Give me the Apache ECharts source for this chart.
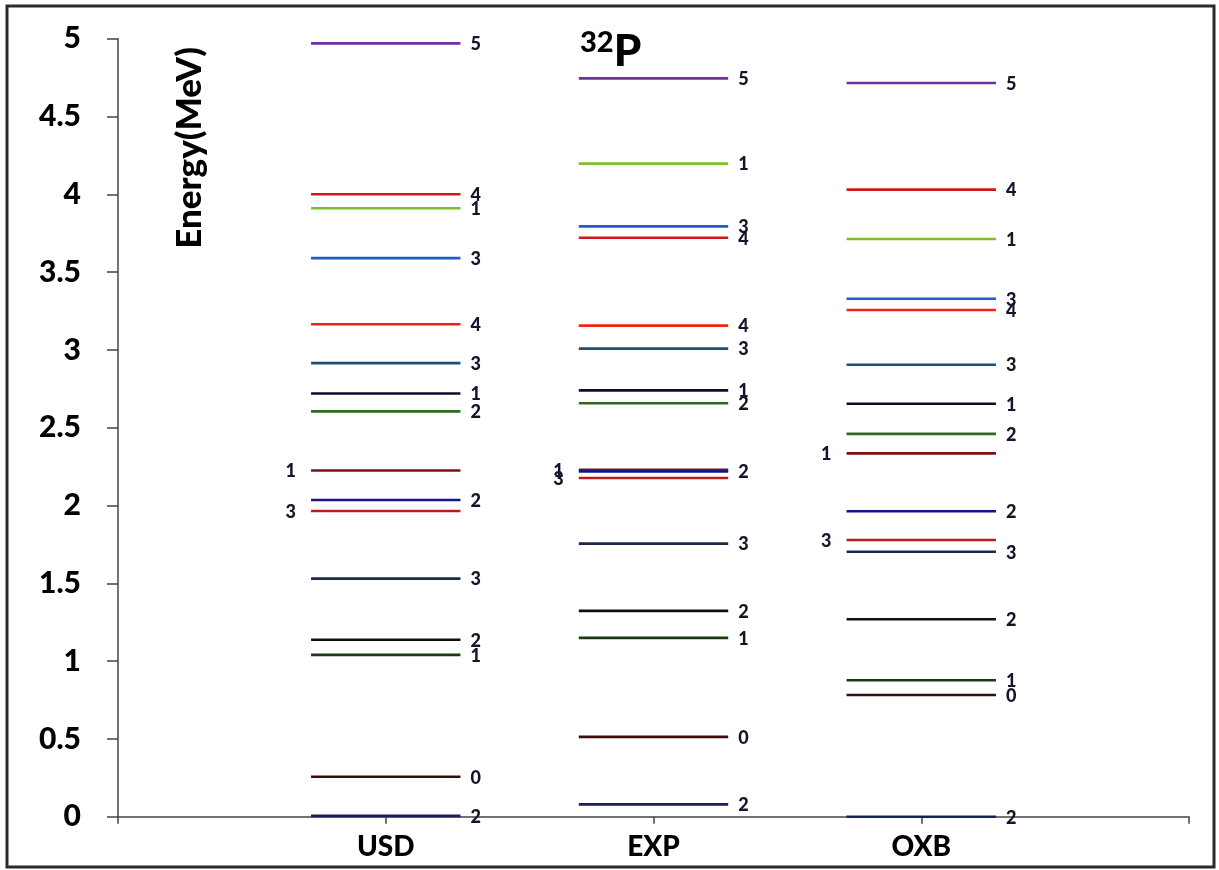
<!DOCTYPE html>
<html>
<head>
<meta charset="utf-8">
<script src="https://cdn.jsdelivr.net/npm/echarts@6/dist/echarts.min.js"></script>
<style>
html,body{margin:0;padding:0;background:#fff;}
#chart{width:1219px;height:870px;}
</style>
</head>
<body>
<div id="chart"></div>
<script>
// ---- data ----
var columns = ['USD', 'EXP', 'OXB'];
// energies (MeV), one entry per level, same level order (and colour) in every column
var usdEnergy = [4.97, 4.00, 3.91, 3.59, 3.165, 2.915, 2.72, 2.605, 2.225, 2.035, 1.965, 1.53, 1.137, 1.04, 0.257, 0.005];
var expEnergy = [4.745, 3.721, 4.197, 3.794, 3.156, 3.008, 2.740, 2.657, 2.230, 2.219, 2.177, 1.755, 1.323, 1.149, 0.513, 0.079];
var oxbEnergy = [4.715, 4.030, 3.713, 3.329, 3.256, 2.905, 2.654, 2.460, 2.335, 1.963, 1.778, 1.703, 1.269, 0.877, 0.782, 0.0];
var spinLabels = [5, 4, 1, 3, 4, 3, 1, 2, 1, 2, 3, 3, 2, 1, 0, 2];
var leftLabelLevels = [8, 10];
var yTicks = [0, 0.5, 1, 1.5, 2, 2.5, 3, 3.5, 4, 4.5, 5];

// ---- styles ----
var levelColors = ['#7030A0', '#D01818', '#7CC12A', '#1F5CC8', '#F52010', '#1F4E79', '#0C0C30', '#2E6B1E',
                   '#7B1010', '#14148A', '#B81C1C', '#1A2A4C', '#111111', '#1A3A12', '#3A0C0C', '#1A2058'];
var HALF = 0.279;

var allEnergies = [usdEnergy, expEnergy, oxbEnergy];
var levelData = [];
allEnergies.forEach(function (arr, c) {
  arr.forEach(function (e, i) {
    levelData.push([c + 1, e, i, spinLabels[i], leftLabelLevels.indexOf(i) >= 0 ? 1 : 0]);
  });
});

var chart = echarts.init(document.getElementById('chart'));
chart.setOption({
  animation: false,
  backgroundColor: '#fff',
  grid: { left: 118, right: 30, top: 38.7, bottom: 53.3 },
  xAxis: {
    type: 'value', min: 0, max: 4, interval: 1,
    splitLine: { show: false },
    axisLine: { show: true, lineStyle: { color: '#444', width: 1.5 } },
    axisTick: { show: true, length: 7, lineStyle: { color: '#444', width: 1.5 } },
    axisLabel: {
      margin: 16,
      fontFamily: 'Lato', fontWeight: 900, fontSize: 28, color: '#000',
      formatter: function (v) { return (v >= 1 && v <= 3) ? columns[v - 1] : ''; }
    }
  },
  yAxis: {
    type: 'value', min: yTicks[0], max: yTicks[yTicks.length - 1], interval: 0.5,
    splitLine: { show: false },
    axisLine: { show: true, lineStyle: { color: '#444', width: 1.5 } },
    axisTick: { show: true, length: 11, lineStyle: { color: '#444', width: 1.5 } },
    axisLabel: {
      margin: 37,
      fontFamily: 'Lato', fontWeight: 900, fontSize: 30, color: '#000'
    }
  },
  graphic: [
    { type: 'rect', shape: { x: 7, y: 6, width: 1207, height: 861 },
      style: { fill: 'none', stroke: '#2a2a2a', lineWidth: 3 }, silent: true },
    { type: 'text', x: 190, y: 148, rotation: Math.PI / 2,
      style: { text: 'Energy(MeV)', font: '900 35px Lato', fill: '#000', align: 'center', verticalAlign: 'middle' } },
    { type: 'text', x: 580, y: 28,
      style: {
        text: '{s|32}{p|P}',
        fill: '#000',
        rich: {
          s: { fontFamily: 'Lato', fontWeight: 900, fontSize: 29, verticalAlign: 'top', lineHeight: 30 },
          p: { fontFamily: 'Lato', fontWeight: 900, fontSize: 44, verticalAlign: 'bottom', lineHeight: 46 }
        }
      } }
  ],
  series: [{
    type: 'custom',
    coordinateSystem: 'cartesian2d',
    data: levelData,
    renderItem: function (params, api) {
      var col = api.value(0), e = api.value(1), idx = api.value(2), j = api.value(3), left = api.value(4);
      var p1 = api.coord([col - HALF, e]);
      var p2 = api.coord([col + HALF, e]);
      return {
        type: 'group',
        children: [
          { type: 'line', shape: { x1: p1[0], y1: p1[1], x2: p2[0], y2: p2[1] },
            style: { stroke: levelColors[idx], lineWidth: 2.6 } },
          { type: 'text',
            style: { text: String(j), x: left ? p1[0] - 15 : p2[0] + 10, y: p1[1] + 1,
                     align: left ? 'right' : 'left', verticalAlign: 'middle',
                     font: '900 18px Lato', fill: '#14142a' } }
        ]
      };
    }
  }]
});
</script>
</body>
</html>
